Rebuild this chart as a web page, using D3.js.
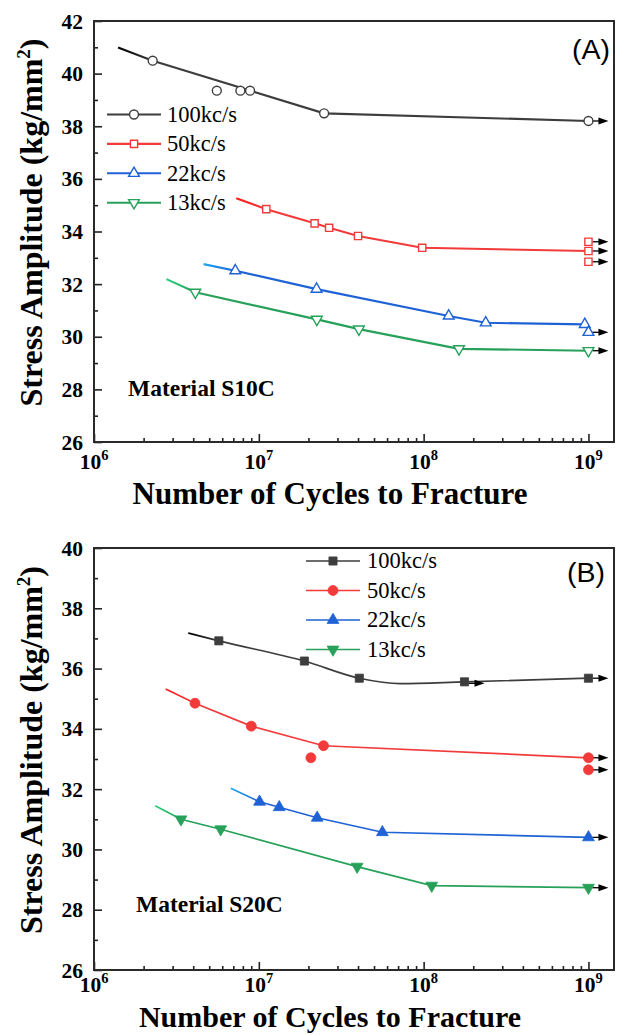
<!DOCTYPE html>
<html><head><meta charset="utf-8">
<script src="https://cdn.jsdelivr.net/npm/d3@7"></script>
<style>body{margin:0;background:#fff}svg{display:block}</style>
</head><body><svg id="c" width="622" height="1035"></svg>
<script>
// ---------- data ----------
const seriesNames = ["100kc/s", "50kc/s", "22kc/s", "13kc/s"];
const xTickValues = [1e6, 1e7, 1e8, 1e9];
const xTickExponents = ["6", "7", "8", "9"];
const yTicksA = [26, 28, 30, 32, 34, 36, 38, 40, 42];
const yTicksB = [26, 28, 30, 32, 34, 36, 38, 40];

// Panel A (Material S10C) - open markers
const a100N = [2.27e6, 5.56e6, 7.73e6, 8.85e6, 2.49e7, 1e9];
const a100S = [40.49, 39.35, 39.35, 39.35, 38.49, 38.2];
const a100LineN = [1.4e6, 2.27e6, 2.49e7, 1e9];
const a100LineS = [40.99, 40.49, 38.49, 38.2];
const a100RunN = [1e9];
const a100RunS = [38.2];

const a50N = [1.11e7, 2.18e7, 2.67e7, 4.0e7, 9.8e7, 1e9, 1e9, 1e9];
const a50S = [34.85, 34.31, 34.14, 33.83, 33.38, 33.61, 33.26, 32.85];
const a50LineN = [7.3e6, 1.11e7, 2.18e7, 2.67e7, 4.0e7, 9.8e7, 1e9];
const a50LineS = [35.26, 34.85, 34.31, 34.14, 33.83, 33.38, 33.26];
const a50RunN = [1e9, 1e9, 1e9];
const a50RunS = [33.61, 33.26, 32.85];

const a22N = [7.2e6, 2.24e7, 1.42e8, 2.38e8, 9.5e8, 1e9];
const a22S = [32.51, 31.81, 30.79, 30.53, 30.47, 30.17];
const a22LineN = [4.62e6, 7.2e6, 2.24e7, 1.42e8, 2.38e8, 9.5e8];
const a22LineS = [32.76, 32.51, 31.81, 30.79, 30.53, 30.47];
const a22RunN = [1e9];
const a22RunS = [30.17];

const a13N = [4.12e6, 2.25e7, 4.05e7, 1.64e8, 1e9];
const a13S = [31.69, 30.66, 30.29, 29.54, 29.47];
const a13LineN = [2.75e6, 4.12e6, 2.25e7, 4.05e7, 1.64e8, 1e9];
const a13LineS = [32.19, 31.69, 30.66, 30.29, 29.54, 29.47];
const a13RunN = [1e9];
const a13RunS = [29.47];

// Panel B (Material S20C) - filled markers
const b100N = [5.72e6, 1.89e7, 4.07e7, 1.77e8, 1e9];
const b100S = [36.92, 36.25, 35.68, 35.56, 35.68];
const b100LineN = [3.73e6, 5.72e6, 1.89e7, 4.07e7, 7.2e7, 1.77e8, 1e9];
const b100LineS = [37.18, 36.92, 36.25, 35.68, 35.50, 35.56, 35.68];
const b100RunN = [1.77e8, 1e9];
const b100RunS = [35.51, 35.68];

const b50N = [4.1e6, 9.0e6, 2.07e7, 2.47e7, 1e9, 1e9];
const b50S = [34.85, 34.09, 33.04, 33.44, 33.04, 32.64];
const b50LineN = [2.72e6, 4.1e6, 9.0e6, 2.47e7, 1e9];
const b50LineS = [35.32, 34.85, 34.09, 33.44, 33.04];
const b50RunN = [1e9, 1e9];
const b50RunS = [33.04, 32.64];

const b22N = [1.01e7, 1.33e7, 2.26e7, 5.62e7, 1e9];
const b22S = [31.58, 31.40, 31.05, 30.57, 30.40];
const b22LineN = [6.76e6, 1.01e7, 1.33e7, 2.26e7, 5.62e7, 1e9];
const b22LineS = [32.03, 31.58, 31.40, 31.05, 30.57, 30.40];
const b22RunN = [1e9];
const b22RunS = [30.40];

const b13N = [3.37e6, 5.87e6, 3.95e7, 1.12e8, 1e9];
const b13S = [31.0, 30.67, 29.43, 28.80, 28.73];
const b13LineN = [2.35e6, 3.37e6, 5.87e6, 3.95e7, 1.12e8, 1e9];
const b13LineS = [31.45, 31.0, 30.67, 29.43, 28.80, 28.73];
const b13RunN = [1e9];
const b13RunS = [28.73];

// ---------- styles ----------
const colors = ["#3d3d3d", "#f23a3a", "#1e62d6", "#27a15a"];
const startColors = ["#000000", "#ff1a1a", "#1ea8f0", "#25d07a"];
const symbolsA = [d3.symbolCircle, d3.symbolSquare, d3.symbolTriangle, d3.symbolTriangle];
const symbolsB = [d3.symbolSquare, d3.symbolCircle, d3.symbolTriangle, d3.symbolTriangle];
const symbolRot = [0, 0, 0, 180];
const serif = "'Liberation Serif','Times New Roman',serif";
const sans = "'Liberation Sans',Arial,sans-serif";

const zip = (n, s) => n.map((v, i) => [v, s[i]]);
const panels = [
  {
    id: "A", left: 94, right: 614, top: 21, bottom: 442, yDomain: [26, 42], yTicks: yTicksA,
    filled: false, symbols: symbolsA, symSize: [62, 52, 50, 50],
    curve: [d3.curveLinear, d3.curveLinear, d3.curveLinear, d3.curveLinear],
    series: [
      {pts: zip(a100N, a100S), line: zip(a100LineN, a100LineS), run: zip(a100RunN, a100RunS)},
      {pts: zip(a50N, a50S), line: zip(a50LineN, a50LineS), run: zip(a50RunN, a50RunS)},
      {pts: zip(a22N, a22S), line: zip(a22LineN, a22LineS), run: zip(a22RunN, a22RunS)},
      {pts: zip(a13N, a13S), line: zip(a13LineN, a13LineS), run: zip(a13RunN, a13RunS)}
    ],
    legend: {x1: 107, x2: 161, tx: 167, y0: 114.5, dy: 29.4},
    label: {text: "(A)", x: 610, y: 59},
    material: {text: "Material S10C", x: 128, y: 396},
    xLabelY: 469, titleY: 504, titleSize: 31
  },
  {
    id: "B", left: 94, right: 614, top: 548, bottom: 970, yDomain: [26, 40], yTicks: yTicksB,
    filled: true, symbols: symbolsB, symSize: [66, 78, 60, 60],
    curve: [d3.curveMonotoneX, d3.curveLinear, d3.curveLinear, d3.curveLinear],
    series: [
      {pts: zip(b100N, b100S), line: zip(b100LineN, b100LineS), run: zip(b100RunN, b100RunS)},
      {pts: zip(b50N, b50S), line: zip(b50LineN, b50LineS), run: zip(b50RunN, b50RunS)},
      {pts: zip(b22N, b22S), line: zip(b22LineN, b22LineS), run: zip(b22RunN, b22RunS)},
      {pts: zip(b13N, b13S), line: zip(b13LineN, b13LineS), run: zip(b13RunN, b13RunS)}
    ],
    legend: {x1: 306, x2: 360, tx: 367, y0: 561, dy: 29.5},
    label: {text: "(B)", x: 605, y: 582},
    material: {text: "Material S20C", x: 136, y: 912},
    xLabelY: 992, titleY: 1027, titleSize: 30
  }
];

const svg = d3.select("#c");
svg.append("rect").attr("width", 622).attr("height", 1035).attr("fill", "#fff");
const defs = svg.append("defs");

const decades = 3.155; // right edge of axis
panels.forEach(p => {
  const x = d3.scaleLog().domain([1e6, Math.pow(10, 6 + decades)]).range([p.left, p.right]);
  const y = d3.scaleLinear().domain(p.yDomain).range([p.bottom, p.top]);
  const g = svg.append("g");

  const minorX = [];
  for (let e = 6; e <= 9; e++) for (let k = 2; k <= 9; k++) { const v = k * Math.pow(10, e); if (v < x.domain()[1]) minorX.push(v); }
  const minorY = d3.range(p.yDomain[0] + 1, p.yDomain[1], 2);

  const ax = g.append("g").attr("transform", `translate(0,${p.bottom})`)
    .call(d3.axisBottom(x).tickValues(minorX).tickSize(-4).tickFormat(""));
  const ax2 = g.append("g").attr("transform", `translate(0,${p.bottom})`)
    .call(d3.axisBottom(x).tickValues(xTickValues).tickSize(-8).tickFormat(""));
  const ay = g.append("g").attr("transform", `translate(${p.left},0)`)
    .call(d3.axisLeft(y).tickValues(minorY).tickSize(-4).tickFormat(""));
  const ay2 = g.append("g").attr("transform", `translate(${p.left},0)`)
    .call(d3.axisLeft(y).tickValues(p.yTicks).tickSize(-8).tickFormat(""));
  [ax, ax2, ay, ay2].forEach(a => {
    a.select(".domain").remove();
    a.selectAll(".tick line").attr("stroke", "#222").attr("stroke-width", 1.6);
  });

  g.append("rect").attr("x", p.left).attr("y", p.top)
    .attr("width", p.right - p.left).attr("height", p.bottom - p.top)
    .attr("fill", "none").attr("stroke", "#2a2a2a").attr("stroke-width", 2);

  g.selectAll(".ylab").data(p.yTicks).enter().append("text")
    .attr("x", p.left - 11).attr("y", d => y(d)).attr("dy", "0.35em")
    .attr("text-anchor", "end").attr("font-family", serif).attr("font-weight", "bold")
    .attr("font-size", 21.5).attr("fill", "#000").text(d => d);

  xTickValues.forEach((v, i) => {
    const t = g.append("text").attr("x", x(v)).attr("y", p.xLabelY)
      .attr("text-anchor", "middle").attr("font-family", serif).attr("font-weight", "bold")
      .attr("font-size", 21.5).attr("fill", "#000");
    t.append("tspan").text("10");
    t.append("tspan").attr("dy", -9).attr("font-size", 14.5).text(xTickExponents[i]);
  });

  g.append("text").attr("x", 330).attr("y", p.titleY)
    .attr("text-anchor", "middle").attr("font-family", serif).attr("font-weight", "bold")
    .attr("font-size", p.titleSize).attr("fill", "#000").text("Number of Cycles to Fracture");
  const yt = g.append("text")
    .attr("transform", `translate(42,${(p.top + p.bottom) / 2 - 9}) rotate(-90)`)
    .attr("text-anchor", "middle").attr("font-family", serif).attr("font-weight", "bold")
    .attr("font-size", 32).attr("fill", "#000");
  yt.append("tspan").text("Stress Amplitude (kg/mm");
  yt.append("tspan").attr("dy", -12).attr("font-size", 19).text("2");
  yt.append("tspan").attr("dy", 12).text(")");

  p.series.forEach((s, i) => {
    const gid = `grad${p.id}${i}`;
    const gr = defs.append("linearGradient").attr("id", gid).attr("gradientUnits", "userSpaceOnUse")
      .attr("x1", x(s.line[0][0])).attr("x2", x(s.line[1][0])).attr("y1", 0).attr("y2", 0);
    gr.append("stop").attr("offset", 0).attr("stop-color", startColors[i]);
    gr.append("stop").attr("offset", 1).attr("stop-color", colors[i]);
    const lineGen = d3.line().x(d => x(d[0])).y(d => y(d[1])).curve(p.curve[i]);
    g.append("path").attr("d", lineGen(s.line)).attr("fill", "none")
      .attr("stroke", `url(#${gid})`).attr("stroke-width", p.filled ? 1.7 : 2.1);
  });

  p.series.forEach((s, i) => {
    s.run.forEach(d => {
      const px = x(d[0]), py = y(d[1]);
      g.append("line").attr("x1", px + 4).attr("x2", px + 11).attr("y1", py).attr("y2", py)
        .attr("stroke", "#000").attr("stroke-width", 1.3);
      g.append("path").attr("d", `M${px + 10},${py - 3.5}L${px + 20},${py}L${px + 10},${py + 3.5}Z`)
        .attr("fill", "#000");
    });
  });

  const drawMarker = (sel, i, cx, cy) => {
    sel.append("path").attr("d", d3.symbol().type(p.symbols[i]).size(p.symSize[i])())
      .attr("transform", `translate(${cx},${cy}) rotate(${symbolRot[i]})`)
      .attr("fill", p.filled ? colors[i] : "#fff")
      .attr("stroke", colors[i]).attr("stroke-width", p.filled ? 0.8 : 1.4);
  };
  p.series.forEach((s, i) => {
    s.pts.forEach(d => drawMarker(g, i, x(d[0]), y(d[1])));
  });

  seriesNames.forEach((name, i) => {
    const ly = p.legend.y0 + i * p.legend.dy;
    g.append("line").attr("x1", p.legend.x1).attr("x2", p.legend.x2).attr("y1", ly).attr("y2", ly)
      .attr("stroke", colors[i]).attr("stroke-width", p.filled ? 1.7 : 2.1);
    drawMarker(g, i, (p.legend.x1 + p.legend.x2) / 2, ly);
    g.append("text").attr("x", p.legend.tx).attr("y", ly).attr("dy", "0.33em")
      .attr("font-family", serif).attr("font-size", 22.5).attr("fill", "#000").text(name);
  });

  g.append("text").attr("x", p.label.x).attr("y", p.label.y).attr("text-anchor", "end")
    .attr("font-family", sans).attr("font-size", 28.5).attr("fill", "#000").text(p.label.text);
  g.append("text").attr("x", p.material.x).attr("y", p.material.y)
    .attr("font-family", serif).attr("font-weight", "bold").attr("font-size", 23.5)
    .attr("fill", "#000").text(p.material.text);
});
</script></body></html>
